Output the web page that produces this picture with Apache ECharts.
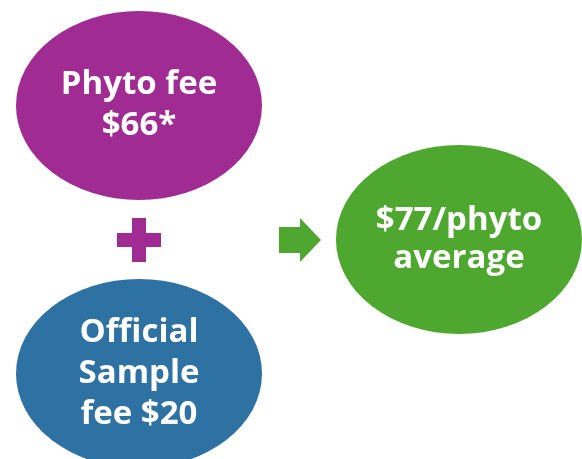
<!DOCTYPE html>
<html>
<head>
<meta charset="utf-8">
<script src="https://cdn.jsdelivr.net/npm/echarts@6/dist/echarts.min.js"></script>
<style>
  html, body { margin: 0; padding: 0; background: #ffffff; }
  #chart { width: 582px; height: 459px; }
</style>
</head>
<body>
<div id="chart"></div>
<script>
// ---- content ----
const nodeLabels = ['Phyto fee\n$66*', 'Official\nSample\nfee $20', '$77/phyto\naverage'];
const operatorNames = ['plus', 'arrow'];

// ---- layout (pixel-like coordinates on hidden value axes) ----
const nodeLayout = [[139, 105.5], [139, 373.5], [459, 239.5]];
const operatorLayout = [[139, 240], [300, 240]];

// ---- styles ----
const nodeColors = ['#A02B93', '#2E71A3', '#4EA72E'];
const nodeLineHeights = [41, 41, 38];
const operatorColors = ['#A02B93', '#4EA72E'];
const ellipsePath = 'path://M0,50 A100,50 0 1,1 200,50 A100,50 0 1,1 0,50 Z';
const plusPath = 'path://M15,0 L29,0 L29,15 L44,15 L44,29 L29,29 L29,44 L15,44 L15,29 L0,29 L0,15 L15,15 Z';
const arrowPath = 'path://M0,9 L21,9 L21,0 L42,22 L21,44 L21,35 L0,35 Z';
const operatorSymbols = [plusPath, arrowPath];
const operatorSizes = [[44, 44], [42, 44]];

const chart = echarts.init(document.getElementById('chart'), null, { renderer: 'canvas' });

const nodeData = nodeLabels.map((name, i) => ({
  name: name,
  value: nodeLayout[i],
  itemStyle: { color: nodeColors[i], opacity: 1 },
  label: { lineHeight: nodeLineHeights[i] }
}));

const opData = operatorNames.map((name, i) => ({
  name: name,
  value: operatorLayout[i],
  symbol: operatorSymbols[i],
  symbolSize: operatorSizes[i],
  itemStyle: { color: operatorColors[i], opacity: 1 }
}));

chart.setOption({
  animation: false,
  backgroundColor: '#ffffff',
  grid: { left: 0, right: 0, top: 0, bottom: 0 },
  xAxis: { type: 'value', min: 0, max: 582, show: false },
  yAxis: { type: 'value', min: 0, max: 459, inverse: true, show: false },
  series: [
    {
      type: 'scatter',
      symbol: ellipsePath,
      symbolSize: [246, 189],
      data: nodeData,
      itemStyle: { opacity: 1 },
      label: {
        show: true,
        position: 'inside',
        formatter: '{b}',
        color: '#ffffff',
        fontFamily: 'Open Sans',
        fontWeight: 'bold',
        fontSize: 33,
        align: 'center'
      },
      emphasis: { disabled: true }
    },
    {
      type: 'scatter',
      data: opData,
      itemStyle: { opacity: 1 },
      emphasis: { disabled: true }
    }
  ]
});
</script>
</body>
</html>
